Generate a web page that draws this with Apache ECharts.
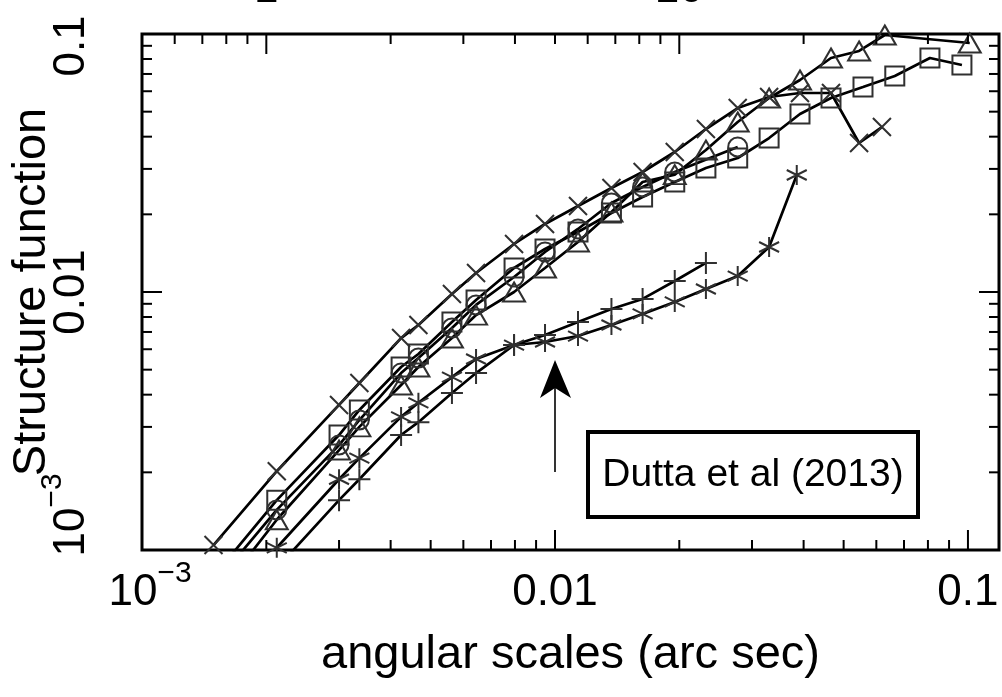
<!DOCTYPE html>
<html>
<head>
<meta charset="utf-8">
<script src="https://cdn.jsdelivr.net/npm/echarts@6/dist/echarts.min.js"></script>
<style>
  html, body { margin: 0; padding: 0; background: #fff; }
  #chart { width: 1002px; height: 697px; }
</style>
</head>
<body>
<div id="chart"></div>
<script>
// Structure function vs angular scale (arc sec), one list of [scale, SF] per sample
const crossPts = [
  [0.00149, 0.001045], [0.00212, 0.00202], [0.00300, 0.00365], [0.00336, 0.00444],
  [0.00424, 0.00663], [0.00467, 0.00745], [0.00563, 0.00982], [0.00644, 0.01185],
  [0.00796, 0.01535], [0.00946, 0.01835], [0.01137, 0.02154], [0.0137, 0.02529],
  [0.0163, 0.02918], [0.0195, 0.03488], [0.0232, 0.04282], [0.0277, 0.05164],
  [0.0330, 0.05699], [0.0392, 0.05906], [0.0466, 0.05906], [0.0545, 0.03780],
  [0.0619, 0.04359]
];
const squarePts = [
  [0.00149, 0.00079], [0.00212, 0.00156], [0.00300, 0.00279], [0.00336, 0.00349],
  [0.00424, 0.00512], [0.00467, 0.00575], [0.00563, 0.00765], [0.00644, 0.00931],
  [0.00796, 0.01239], [0.00946, 0.01468], [0.01137, 0.01708], [0.0137, 0.02024],
  [0.0163, 0.02335], [0.0195, 0.02670], [0.0232, 0.03025], [0.0277, 0.03307],
  [0.0330, 0.03952], [0.0392, 0.04898], [0.0466, 0.05649], [0.0557, 0.06230],
  [0.0665, 0.06877], [0.0809, 0.08072], [0.0967, 0.07583]
];
const circlePts = [
  [0.00149, 0.00073], [0.00212, 0.00143], [0.00300, 0.00255], [0.00336, 0.00319],
  [0.00424, 0.00485], [0.00467, 0.00555], [0.00563, 0.00725], [0.00644, 0.00891],
  [0.00796, 0.01143], [0.00946, 0.01429], [0.01137, 0.01755], [0.0137, 0.02213],
  [0.0163, 0.02552], [0.0195, 0.02918], [0.0277, 0.03649]
];
const trianglePts = [
  [0.00149, 0.000634], [0.00212, 0.00131], [0.00300, 0.00244], [0.00336, 0.00300],
  [0.00424, 0.00436], [0.00467, 0.00512], [0.00563, 0.00663], [0.00644, 0.00814],
  [0.00796, 0.0100], [0.00946, 0.01239], [0.01137, 0.01563], [0.0137, 0.02042],
  [0.0163, 0.02670], [0.0195, 0.0285], [0.0232, 0.03551], [0.0277, 0.04560],
  [0.0330, 0.05649], [0.0392, 0.06633], [0.0466, 0.08072], [0.0545, 0.08594],
  [0.0629, 0.09911], [0.101, 0.09229]
];
const starPts = [
  [0.00212, 0.00102], [0.00300, 0.00188], [0.00336, 0.00227], [0.00424, 0.00328],
  [0.00467, 0.00372], [0.00563, 0.00468], [0.00644, 0.00550], [0.00796, 0.00623],
  [0.00946, 0.00640], [0.01137, 0.00675], [0.0137, 0.00745], [0.0163, 0.00822],
  [0.0195, 0.00915], [0.0232, 0.01027], [0.0277, 0.01153], [0.0330, 0.01494],
  [0.0385, 0.02841]
];
const plusPts = [
  [0.00212, 0.00085], [0.00300, 0.00156], [0.00336, 0.00188], [0.00424, 0.00279],
  [0.00467, 0.00313], [0.00563, 0.00406], [0.00644, 0.00485], [0.00796, 0.00623],
  [0.00946, 0.00681], [0.01137, 0.00765], [0.0137, 0.00859], [0.0163, 0.00940],
  [0.0195, 0.01103], [0.0232, 0.01296]
];

// axis ranges
const xMin = 0.001, xMax = 0.1189;
const yMin = 0.001, yMax = 0.1;
const topScale = 500;                       // upper axis = lower axis x 500

// labelled ticks ("^" separates an exponent)
const xLabelVals = [0.001, 0.01, 0.1];
const xLabelText = ['10^−3', '0.01', '0.1'];
const yLabelVals = [0.001, 0.01, 0.1];
const yLabelText = ['10^−3', '0.01', '0.1'];
const topLabelVals = [1, 10];
const topLabelText = ['1', '10'];

// tick marks on the frame
const bottomTickVals = [0.002, 0.003, 0.004, 0.005, 0.006, 0.007, 0.008, 0.009, 0.01,
  0.02, 0.03, 0.04, 0.05, 0.06, 0.07, 0.08, 0.09, 0.1];
const bottomMajor = [0.01, 0.1];
const topTickVals = [0.6, 0.7, 0.8, 0.9, 1, 2, 3, 4, 5, 6, 7, 8, 9, 10, 20, 30, 40, 50];
const topMajor = [1, 10];
const sideTickVals = [0.002, 0.003, 0.004, 0.005, 0.006, 0.007, 0.008, 0.009, 0.01,
  0.02, 0.03, 0.04, 0.05, 0.06, 0.07, 0.08, 0.09];
const sideMajor = [0.01];

const FONT = 'Liberation Sans';

function sameLog(a, b) { return Math.abs(Math.log10(a) - Math.log10(b)) < 1e-6; }

function makeFormatter(vals, texts, keys) {
  return function (v) {
    for (let i = 0; i < vals.length; i++) {
      if (sameLog(v, vals[i])) {
        const t = texts[i];
        const k = keys[i];
        if (t.indexOf('^') >= 0) {
          const parts = t.split('^');
          return '{' + k + '|' + parts[0] + '}{sup|' + parts[1] + '}';
        }
        return '{' + k + '|' + t + '}';
      }
    }
    return '';
  };
}

const baseTok = { fontSize: 44, fontFamily: FONT, color: '#000', lineHeight: 44 };
function tok(pad) { return Object.assign({}, baseTok, { padding: pad }); }
const supTok = { fontSize: 30, fontFamily: FONT, color: '#000', lineHeight: 30, padding: [0, 0, 26, 0] };

function isMajor(list, v) { return list.some(m => sameLog(m, v)) ? 1 : 0; }

const tickStyle = { stroke: '#000', lineWidth: 2 };

const chart = echarts.init(document.getElementById('chart'), null, { renderer: 'canvas' });

function lineSeries(name, pts, symbol, size) {
  return {
    name: name, type: 'line', data: pts, symbol: symbol, symbolSize: size,
    showAllSymbol: true, clip: true, animation: false, z: 3,
    lineStyle: { color: '#000', width: 2.7 },
    itemStyle: { color: 'rgba(0,0,0,0)', borderColor: '#303030', borderWidth: 2 },
    emphasis: { disabled: true }
  };
}

const option = {
  animation: false,
  backgroundColor: '#fff',
  grid: {
    left: 142, top: 34, right: 3, bottom: 147, containLabel: false, outerBoundsMode: 'none',
    show: true, borderColor: '#000', borderWidth: 3, backgroundColor: 'rgba(0,0,0,0)'
  },
  xAxis: [
    {
      type: 'log', logBase: 10, min: xMin, max: xMax, position: 'bottom',
      axisLine: { show: false }, axisTick: { show: false }, splitLine: { show: false },
      name: 'angular scales (arc sec)', nameLocation: 'middle', nameGap: 82, nameMoveOverlap: false,
      nameTextStyle: { fontSize: 47, fontFamily: FONT, color: '#000' },
      axisLabel: {
        margin: 15,
        formatter: makeFormatter(xLabelVals, xLabelText, ['first', 'n', 'n']),
        rich: { n: tok([12, 0, 0, 0]), first: tok([12, 0, 0, 16]), sup: supTok }
      }
    },
    {
      type: 'log', logBase: 10, min: xMin * topScale, max: xMax * topScale, position: 'top',
      axisLine: { show: false }, axisTick: { show: false }, splitLine: { show: false },
      axisLabel: {
        margin: 22, fontSize: 44, fontFamily: FONT, color: '#000',
        formatter: function (v) {
          for (let i = 0; i < topLabelVals.length; i++) if (sameLog(v, topLabelVals[i])) return topLabelText[i];
          return '';
        }
      }
    }
  ],
  yAxis: [
    {
      type: 'log', logBase: 10, min: yMin, max: yMax,
      axisLine: { show: false }, axisTick: { show: false }, splitLine: { show: false },
      name: 'Structure function', nameLocation: 'middle', nameGap: 86, nameRotate: 90, nameMoveOverlap: false,
      nameTextStyle: { fontSize: 47, fontFamily: FONT, color: '#000' },
      axisLabel: {
        rotate: 90, margin: 54,
        formatter: makeFormatter(yLabelVals, yLabelText, ['low', 'n', 'high']),
        rich: { n: tok([12, 0, 0, 0]), low: tok([12, 0, 0, 70]), high: tok([12, 24, 0, 0]), sup: supTok }
      }
    }
  ],
  series: [
    lineSeries('cross', crossPts, 'path://M0,0L10,10M10,0L0,10', 18),
    lineSeries('square', squarePts, 'rect', 19),
    lineSeries('circle', circlePts, 'circle', 19),
    lineSeries('triangle', trianglePts, 'triangle', [22, 19]),
    lineSeries('star', starPts, 'path://M5,0L5,10M0.67,2.5L9.33,7.5M0.67,7.5L9.33,2.5', 20),
    lineSeries('plus', plusPts, 'path://M5,0L5,10M0,5L10,5', 22),
    {
      type: 'custom', xAxisIndex: 0, yAxisIndex: 0, silent: true, clip: false, z: 5,
      data: bottomTickVals.map(v => [v, yMin, isMajor(bottomMajor, v)]),
      renderItem: function (params, api) {
        const p = api.coord([api.value(0), yMin]);
        const len = api.value(2) ? 20 : 10;
        return { type: 'line', shape: { x1: p[0], y1: p[1], x2: p[0], y2: p[1] - len }, style: tickStyle };
      }
    },
    {
      type: 'custom', xAxisIndex: 1, yAxisIndex: 0, silent: true, clip: false, z: 5,
      data: topTickVals.map(v => [v, yMax, isMajor(topMajor, v)]),
      renderItem: function (params, api) {
        const p = api.coord([api.value(0), yMax]);
        const len = api.value(2) ? 20 : 10;
        return { type: 'line', shape: { x1: p[0], y1: p[1], x2: p[0], y2: p[1] + len }, style: tickStyle };
      }
    },
    {
      type: 'custom', xAxisIndex: 0, yAxisIndex: 0, silent: true, clip: false, z: 5,
      data: sideTickVals.map(v => [xMin, v, isMajor(sideMajor, v)]),
      renderItem: function (params, api) {
        const l = api.coord([xMin, api.value(1)]);
        const r = api.coord([xMax, api.value(1)]);
        const len = api.value(2) ? 20 : 10;
        return {
          type: 'group', children: [
            { type: 'line', shape: { x1: l[0], y1: l[1], x2: l[0] + len, y2: l[1] }, style: tickStyle },
            { type: 'line', shape: { x1: r[0], y1: r[1], x2: r[0] - len, y2: r[1] }, style: tickStyle }
          ]
        };
      }
    }
  ],
  graphic: [
    // arrow pointing at the lower pair of curves
    { type: 'line', shape: { x1: 555, y1: 472, x2: 555, y2: 386 }, style: { stroke: '#000', lineWidth: 1.6 }, z: 10 },
    { type: 'polygon', shape: { points: [[555, 360], [540, 398], [555, 388], [571, 398]] }, style: { fill: '#000' }, z: 10 },
    // reference box
    { type: 'rect', shape: { x: 588, y: 432, width: 330, height: 85 }, style: { fill: '#fff', stroke: '#000', lineWidth: 4 }, z: 10 },
    { type: 'text', x: 753, y: 475, style: { text: 'Dutta et al (2013)', font: '39px "Liberation Sans"', fill: '#000', align: 'center', verticalAlign: 'middle' }, z: 11 }
  ]
};

chart.setOption(option);
</script>
</body>
</html>
